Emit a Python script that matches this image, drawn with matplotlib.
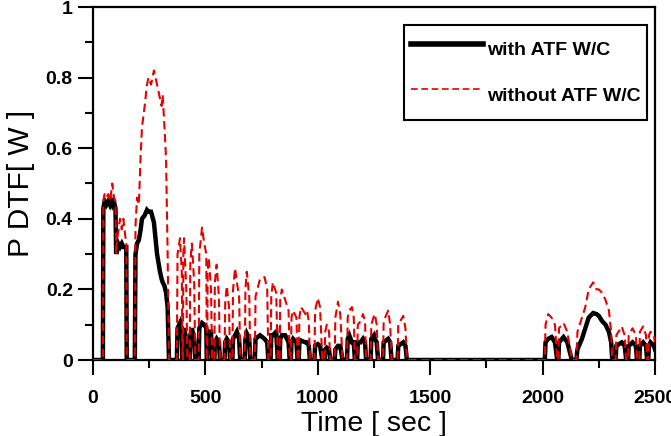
import matplotlib
matplotlib.use("Agg")
import matplotlib.pyplot as plt
from matplotlib.ticker import MultipleLocator, FuncFormatter

# ---------------- data ----------------
time_s = [
    0, 44, 46, 52, 60, 68, 75, 80, 86, 92, 100, 103, 106, 112, 120, 128, 135, 142, 148, 150,
    186, 189, 196, 204, 212, 218, 230, 240, 247, 258, 271, 285, 298, 305, 310, 318, 325, 332, 338,
    373, 376, 387, 395, 398,
    400, 402, 405, 415, 420,
    430, 433, 440, 450, 455,
    470, 473, 485, 495, 504, 506,
    508, 510, 515, 525, 530,
    540, 542, 550, 560, 565,
    585, 588, 595, 605, 610,
    620, 623, 632, 640, 650, 655,
    675, 678, 684, 695, 700,
    720, 723, 743, 763, 775, 780,
    790, 793, 800, 815, 822,
    830, 833, 840, 855, 870, 875,
    880, 883, 890, 905, 910,
    915, 918, 925, 945, 952, 960, 965,
    985, 988, 1000, 1010, 1020,
    1030, 1033, 1040, 1050, 1055,
    1075, 1078, 1090, 1100, 1110,
    1130, 1133, 1140, 1152, 1160, 1165,
    1175, 1178, 1190, 1201, 1210, 1215,
    1235, 1238, 1250, 1254, 1262, 1268,
    1290, 1293, 1313, 1322, 1328,
    1355, 1358, 1380, 1390, 1396,
    2010, 2013, 2025, 2040, 2055, 2065,
    2070, 2073, 2093, 2110, 2130,
    2150, 2155, 2175, 2190, 2205, 2225, 2240, 2250, 2265, 2280, 2295, 2305, 2310,
    2325, 2328, 2352, 2365, 2372,
    2380, 2383, 2400, 2415, 2420,
    2430, 2433, 2447, 2460, 2465,
    2470, 2473, 2480, 2495, 2500,
]

p_without = [
    0, 0, 0.45, 0.47, 0.46, 0.47, 0.45, 0.47, 0.50, 0.46, 0.45, 0.30, 0.34, 0.36, 0.40, 0.37, 0.40, 0.36, 0.33, 0,
    0, 0.38, 0.46, 0.44, 0.58, 0.66, 0.72, 0.78, 0.80, 0.78, 0.82, 0.78, 0.74, 0.72, 0.75, 0.66, 0.57, 0.30, 0,
    0, 0.30, 0.345, 0.25, 0,
    0, 0.30, 0.345, 0.20, 0,
    0, 0.28, 0.33, 0.22, 0,
    0, 0.30, 0.375, 0.33, 0.30, 0,
    0, 0.25, 0.29, 0.20, 0,
    0, 0.22, 0.27, 0.18, 0,
    0, 0.16, 0.21, 0.15, 0,
    0, 0.20, 0.26, 0.22, 0.18, 0,
    0, 0.20, 0.25, 0.18, 0,
    0, 0.18, 0.23, 0.235, 0.20, 0,
    0, 0.18, 0.22, 0.19, 0,
    0, 0.17, 0.20, 0.17, 0.14, 0,
    0, 0.12, 0.14, 0.12, 0,
    0, 0.12, 0.15, 0.13, 0.14, 0.11, 0,
    0, 0.14, 0.175, 0.15, 0,
    0, 0.08, 0.10, 0.08, 0,
    0, 0.12, 0.165, 0.13, 0,
    0, 0.12, 0.14, 0.15, 0.12, 0,
    0, 0.10, 0.11, 0.13, 0.11, 0,
    0, 0.10, 0.125, 0.13, 0.10, 0,
    0, 0.11, 0.14, 0.10, 0,
    0, 0.10, 0.125, 0.09, 0,
    0, 0.10, 0.13, 0.12, 0.10, 0,
    0, 0.09, 0.105, 0.08, 0,
    0, 0.08, 0.12, 0.15, 0.20, 0.22, 0.20, 0.20, 0.19, 0.17, 0.14, 0.08, 0,
    0, 0.07, 0.095, 0.07, 0,
    0, 0.07, 0.09, 0.07, 0,
    0, 0.08, 0.095, 0.07, 0,
    0, 0.07, 0.08, 0.07, 0.05,
]

p_with = [
    0, 0, 0.43, 0.45, 0.44, 0.45, 0.44, 0.45, 0.44, 0.45, 0.43, 0.30, 0.32, 0.33, 0.32, 0.33, 0.32, 0.32, 0.32, 0,
    0, 0.30, 0.33, 0.34, 0.37, 0.40, 0.41, 0.425, 0.42, 0.42, 0.39, 0.30, 0.25, 0.23, 0.22, 0.21, 0.19, 0.15, 0,
    0, 0.09, 0.105, 0.07, 0,
    0, 0.08, 0.09, 0.06, 0,
    0, 0.07, 0.09, 0.06, 0,
    0, 0.09, 0.105, 0.10, 0.09, 0,
    0, 0.07, 0.08, 0.08, 0,
    0, 0.05, 0.06, 0.05, 0,
    0, 0.05, 0.06, 0.05, 0,
    0, 0.06, 0.07, 0.08, 0.06, 0,
    0, 0.06, 0.075, 0.06, 0,
    0, 0.06, 0.07, 0.06, 0.05, 0,
    0, 0.07, 0.07, 0.08, 0,
    0, 0.06, 0.07, 0.07, 0.05, 0,
    0, 0.05, 0.06, 0.05, 0,
    0, 0.05, 0.055, 0.05, 0.05, 0.04, 0,
    0, 0.04, 0.045, 0.04, 0,
    0, 0.03, 0.035, 0.03, 0,
    0, 0.03, 0.04, 0.04, 0,
    0, 0.06, 0.07, 0.05, 0.05, 0,
    0, 0.05, 0.05, 0.06, 0.05, 0,
    0, 0.06, 0.07, 0.06, 0.05, 0,
    0, 0.05, 0.06, 0.05, 0,
    0, 0.04, 0.05, 0.04, 0,
    0, 0.05, 0.06, 0.065, 0.05, 0,
    0, 0.05, 0.065, 0.05, 0,
    0, 0.03, 0.06, 0.09, 0.12, 0.133, 0.13, 0.125, 0.11, 0.10, 0.08, 0.05, 0,
    0, 0.04, 0.05, 0.04, 0,
    0, 0.04, 0.05, 0.04, 0,
    0, 0.04, 0.05, 0.04, 0,
    0, 0.04, 0.05, 0.04, 0.03,
]

series_labels = ["with ATF W/C", "without ATF W/C"]
x_label = "Time [ sec ]"
y_label = "P DTF[ W ]"
x_ticks = [0, 500, 1000, 1500, 2000, 2500]
y_ticks = [0, 0.2, 0.4, 0.6, 0.8, 1.0]

# ---------------- figure ----------------
plt.rcParams["font.family"] = ["Liberation Sans", "DejaVu Sans"]

W, H = 671, 436
fig = plt.figure(figsize=(W / 100, H / 100), dpi=100)
ax = fig.add_axes([93 / W, 1 - 360 / H, (655 - 93) / W, (360 - 7) / H])

ax.plot(time_s, p_with, color="black", lw=3.2, solid_joinstyle="miter",
        label=series_labels[0], zorder=2)
ax.plot(time_s, p_without, color="#e60000", lw=1.5, ls=(0, (4, 2.2)),
        label=series_labels[1], zorder=3)

ax.set_xlim(0, 2500)
ax.set_ylim(0, 1)
ax.set_xticks(x_ticks)
ax.set_yticks(y_ticks)
ax.xaxis.set_minor_locator(MultipleLocator(250))
ax.yaxis.set_minor_locator(MultipleLocator(0.1))
ax.yaxis.set_major_formatter(FuncFormatter(lambda v, p: f"{v:g}"))

for s in ax.spines.values():
    s.set_linewidth(1.6)

ax.tick_params(which="major", direction="out", length=11, width=1.5,
               labelsize=14)
ax.tick_params(axis="x", which="major", pad=10.5)
ax.tick_params(axis="y", which="major", pad=3.5)
ax.tick_params(which="minor", direction="out", length=5.5, width=1.5)
for lab in ax.get_xticklabels() + ax.get_yticklabels():
    lab.set_fontweight("bold")

ax.set_xlabel(x_label, fontsize=20.5, labelpad=3)
ax.set_ylabel(y_label, fontsize=21.5, labelpad=8)

leg = ax.legend(loc="upper right", bbox_to_anchor=((647 - 93) / (655 - 93), (360 - 25) / 353),
                prop={"weight": "bold", "size": 14},
                frameon=True, fancybox=False, shadow=False, framealpha=1,
                edgecolor="black", handlelength=3.7, handleheight=2.4,
                handletextpad=0.2, labelspacing=0.55, borderpad=0.35,
                borderaxespad=0)
leg.get_frame().set_linewidth(1.5)
leg.legend_handles[0].set_linewidth(4)
leg.legend_handles[1].set_linewidth(1.2)

fig.savefig("out.png", dpi=100)
